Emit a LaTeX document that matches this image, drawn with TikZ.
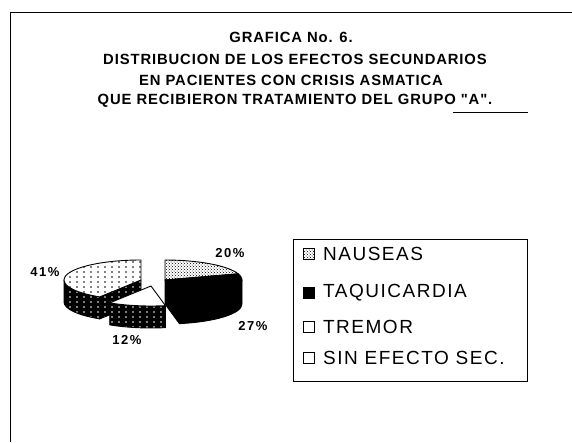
\documentclass[tikz,border=0pt]{standalone}
\usepackage{fontspec}
\setmainfont{Liberation Sans}
\newfontfamily\titlefont[LetterSpace=6]{Liberation Sans}
\newfontfamily\legendfont[LetterSpace=8]{Liberation Sans}
\newfontfamily\pctfont[LetterSpace=12]{Liberation Sans}
\usepackage{tikz}
\usetikzlibrary{patterns,positioning}

\pgfdeclarepatternformonly{sparse dots}{\pgfqpoint{-1pt}{-1pt}}{\pgfqpoint{1pt}{1pt}}{\pgfqpoint{7pt}{5pt}}%
{\pgfpathcircle{\pgfqpoint{0pt}{0pt}}{0.8pt}\pgfusepath{fill}}

\tikzset{
  titleline/.style={font=\titlefont\bfseries\fontsize{14.8}{17}\selectfont, inner sep=0pt},
  pct/.style={font=\pctfont\bfseries\fontsize{13}{15}\selectfont, inner sep=0pt},
  legendtext/.style={font=\legendfont\fontsize{19}{21}\selectfont, anchor=west, inner sep=0pt},
  swatch/.style={draw=black, line width=0.8pt, minimum size=11pt, inner sep=0pt},
  pieline/.style={draw=black, line width=0.9pt, line join=round},
  nauseastop/.style={pieline, preaction={fill=white}, pattern=crosshatch dots},
  taqui/.style={pieline, fill=black},
  tremortop/.style={pieline, fill=white},
  tremorside/.style={pieline, preaction={fill=black}, pattern=sparse dots, pattern color=white},
  sintop/.style={pieline, preaction={fill=white}, pattern=sparse dots},
  sinside/.style={pieline, preaction={fill=black}, pattern=sparse dots, pattern color=white}
}

\begin{document}
\begin{tikzpicture}[x=1pt, y=1pt]
    \useasboundingbox (0,0) rectangle (572,442);

    % frame
    \draw[line width=1pt] (572,429) -- (10,429) -- (10,0);

    % title
    \node[titleline] (t1) at (291,405) {GRAFICA No. 6.};
    \node[titleline] (t2) at (295,383) {DISTRIBUCION DE LOS EFECTOS SECUNDARIOS};
    \node[titleline] (t3) at (291,362) {EN PACIENTES CON CRISIS ASMATICA};
    \node[titleline] (t4) at (295,341) {QUE RECIBIERON TRATAMIENTO DEL GRUPO "A".};
    \draw[line width=1pt] (453,329) -- (528,329);

    % pie, back to front
    \begin{scope}[shift={(155,162)}]
        % nauseas
        \begin{scope}[shift={(10,0)}]
            \path[nauseastop] (0,0) -- (90:77pt and 20pt) arc (90:18:77pt and 20pt) -- cycle;
        \end{scope}
        % sin efecto sec.
        \begin{scope}[shift={(-14,0)}]
            \path[sinside] (0,0) -- (237.6:77pt and 20pt) -- ++(0,-22) -- (0,-22) -- cycle;
            \path[sinside] (180:77pt and 20pt) arc (180:237.6:77pt and 20pt) -- ++(0,-22)
                arc (237.6:180:77pt and 20pt) -- cycle;
            \path[sintop] (0,0) -- (90:77pt and 20pt) arc (90:237.6:77pt and 20pt) -- cycle;
        \end{scope}
        % taquicardia
        \begin{scope}[shift={(10,0)}]
            \path[taqui] (0,0) -- (-79.2:77pt and 20pt) -- ++(0,-24) -- (0,-24) -- cycle;
            \path[taqui] (-79.2:77pt and 20pt) arc (-79.2:0:77pt and 20pt) -- ++(0,-24)
                arc (0:-79.2:77pt and 20pt) -- cycle;
            \path[taqui] (0,0) -- (18:77pt and 20pt) arc (18:-79.2:77pt and 20pt) -- cycle;
        \end{scope}
        % tremor
        \begin{scope}[shift={(-4,-6)}]
            \path[tremorside] (-122.4:77pt and 20pt) arc (-122.4:-79.2:77pt and 20pt) -- ++(0,-22)
                arc (-79.2:-122.4:77pt and 20pt) -- cycle;
            \path[tremortop] (0,0) -- (-79.2:77pt and 20pt) arc (-79.2:-122.4:77pt and 20pt) -- cycle;
        \end{scope}
    \end{scope}

    % percentages
    \node[pct] (p41) at (45,170) {41\%};
    \node[pct] (p20) at (230,189) {20\%};
    \node[pct] (p27) at (253,116) {27\%};
    \node[pct] (p12) at (127,102) {12\%};

    % legend
    \draw[line width=1pt] (293,202) rectangle (527,61);
    \node[swatch, preaction={fill=white}, pattern=crosshatch dots] (s1) at (309,188) {};
    \node[legendtext, right=8pt of s1] (l1) {NAUSEAS};
    \node[swatch, fill=black] (s2) at (309,149) {};
    \node[legendtext, right=8pt of s2] (l2) {TAQUICARDIA};
    \node[swatch, fill=white] (s3) at (309,115) {};
    \node[legendtext, right=8pt of s3] (l3) {TREMOR};
    \node[swatch, fill=white] (s4) at (309,84) {};
    \node[legendtext, right=8pt of s4] (l4) {SIN EFECTO SEC.};
\end{tikzpicture}
\end{document}
